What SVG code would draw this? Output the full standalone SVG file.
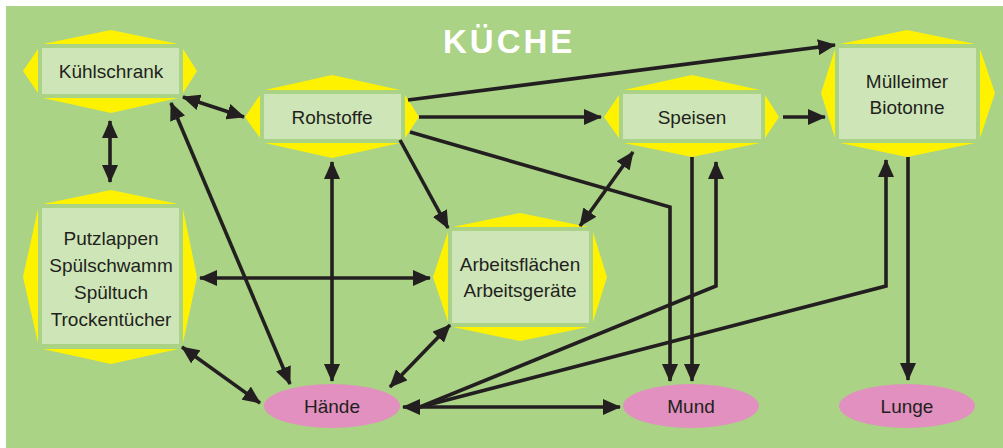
<svg xmlns="http://www.w3.org/2000/svg" width="1003" height="448" viewBox="0 0 1003 448">
<defs>
<marker id="ah" markerUnits="userSpaceOnUse" markerWidth="18" markerHeight="16" refX="17" refY="8" orient="auto-start-reverse" viewBox="0 0 18 16">
<path d="M0,0 L18,8 L0,16 z" fill="#231f20"/>
</marker>
<style>
.y{fill:#fff200}
.b{fill:#cee6b7}
.t{font-family:"Liberation Sans",Arial,sans-serif;font-size:19px;fill:#231f20;text-anchor:middle}
.e{fill:#e190bf}
.c{fill:none;stroke:#231f20;stroke-width:3.6;stroke-linejoin:miter}
.d{marker-start:url(#ah);marker-end:url(#ah)}
.s{marker-end:url(#ah)}
</style>
</defs>
<rect x="0" y="0" width="1003" height="448" fill="#ffffff"/>
<rect x="6" y="6" width="997" height="442" fill="#aad386"/>
<text x="443" y="53" font-family="Liberation Sans,Arial,sans-serif" font-size="33" font-weight="bold" letter-spacing="3" fill="#ffffff">KÜCHE</text>

<g id="kuehlschrank">
<polygon class="y" points="43,44 111,30 178,44"/>
<polygon class="y" points="43,98 111,113 178,98"/>
<polygon class="y" points="38,49 23,71 38,93"/>
<polygon class="y" points="183,49 197,71 183,93"/>
<rect class="b" x="42" y="48" width="137" height="46"/>
<text class="t" x="111" y="78">Kühlschrank</text>
</g>

<g id="rohstoffe">
<polygon class="y" points="265,90 332,75 400,90"/>
<polygon class="y" points="265,143 332,158 400,143"/>
<polygon class="y" points="260,95 245,117 260,138"/>
<polygon class="y" points="405,95 419,117 405,138"/>
<rect class="b" x="264" y="94" width="137" height="45"/>
<text class="t" x="332" y="124">Rohstoffe</text>
</g>

<g id="speisen">
<polygon class="y" points="624,90 692,75 760,90"/>
<polygon class="y" points="624,143 692,157 760,143"/>
<polygon class="y" points="619,95 604,117 619,138"/>
<polygon class="y" points="765,95 779,117 765,138"/>
<rect class="b" x="623" y="94" width="138" height="45"/>
<text class="t" x="692" y="124">Speisen</text>
</g>

<g id="muelleimer">
<polygon class="y" points="840,44 907,30 975,44"/>
<polygon class="y" points="840,143 907,157 975,143"/>
<polygon class="y" points="835,49 821,93 835,138"/>
<polygon class="y" points="980,49 995,93 980,138"/>
<rect class="b" x="839" y="48" width="137" height="91"/>
<text class="t" x="907" y="88">Mülleimer</text>
<text class="t" x="907" y="114">Biotonne</text>
</g>

<g id="putzlappen">
<polygon class="y" points="43,204 111,190 178,204"/>
<polygon class="y" points="43,349 111,364 178,349"/>
<polygon class="y" points="38,209 23,277 38,343"/>
<polygon class="y" points="183,209 197,277 183,343"/>
<rect class="b" x="42" y="208" width="137" height="136"/>
<text class="t" x="111" y="245">Putzlappen</text>
<text class="t" x="111" y="272">Spülschwamm</text>
<text class="t" x="111" y="299">Spültuch</text>
<text class="t" x="111" y="326">Trockentücher</text>
</g>

<g id="arbeitsflaechen">
<polygon class="y" points="453,227 520,213 588,227"/>
<polygon class="y" points="453,327 520,341 588,327"/>
<polygon class="y" points="448,232 433,277 448,322"/>
<polygon class="y" points="593,232 607,277 593,322"/>
<rect class="b" x="452" y="231" width="137" height="92"/>
<text class="t" x="520" y="271">Arbeitsflächen</text>
<text class="t" x="520" y="297">Arbeitsgeräte</text>
</g>

<g id="haende">
<ellipse class="e" cx="332" cy="406" rx="68" ry="22"/>
<text class="t" x="332" y="413">Hände</text>
</g>
<g id="mund">
<ellipse class="e" cx="691" cy="406" rx="68" ry="22"/>
<text class="t" x="691" y="413">Mund</text>
</g>
<g id="lunge">
<ellipse class="e" cx="907" cy="406" rx="68" ry="22"/>
<text class="t" x="907" y="413">Lunge</text>
</g>

<g id="connectors">
<path class="c d" d="M183,97 L244,117"/>
<path class="c d" d="M110,121 L110,182"/>
<path class="c d" d="M171,103 L290,384"/>
<path class="c d" d="M332,162 L332,381"/>
<path class="c d" d="M200,278 L430,278"/>
<path class="c d" d="M182,347 L260,403"/>
<path class="c d" d="M450,325 L390,387"/>
<path class="c s" d="M400,140 L448,228"/>
<path class="c d" d="M633,152 L580,226"/>
<path class="c s" d="M410,132 L670,207 L670,381"/>
<path class="c s" d="M692,157 L692,381"/>
<path class="c s" d="M420,407 L716,286 L716,162"/>
<path class="c s" d="M420,407 L886,286 L886,160"/>
<path class="c s" d="M908,157 L908,380"/>
<path class="c d" d="M403,407 L620,407"/>
<path class="c s" d="M419,117 L601,117"/>
<path class="c s" d="M408,100 L835,45"/>
<path class="c s" d="M783,117 L825,117"/>
</g>
</svg>
